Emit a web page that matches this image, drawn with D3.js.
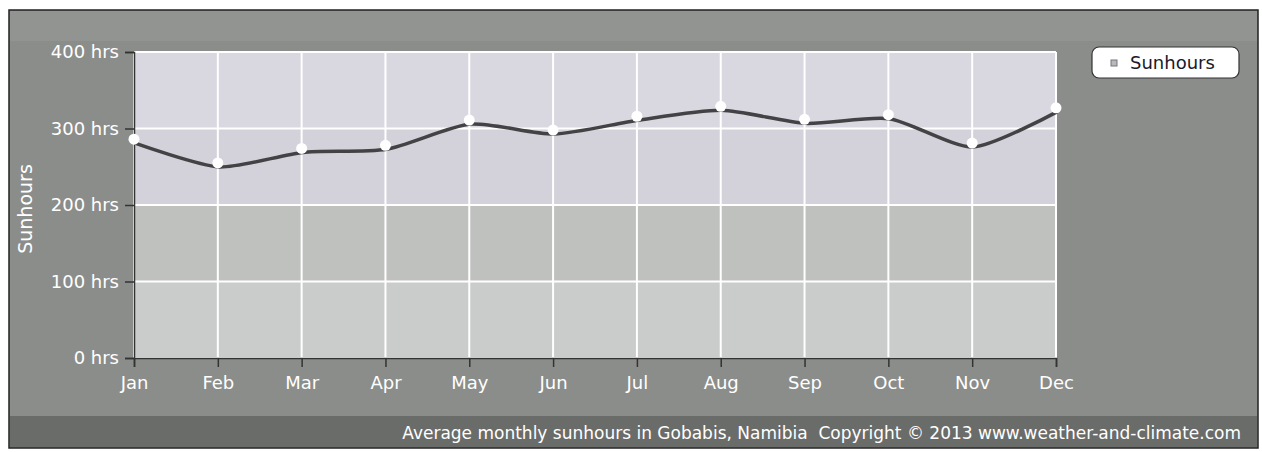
<!DOCTYPE html>
<html>
<head>
<meta charset="utf-8">
<script src="https://cdn.jsdelivr.net/npm/d3@7"></script>
<style>
  body { margin: 0; background: #ffffff; }
  text { font-family: "DejaVu Sans", sans-serif; }
</style>
</head>
<body>
<div id="chart"></div>
<script>
// data
const months = ["Jan", "Feb", "Mar", "Apr", "May", "Jun", "Jul", "Aug", "Sep", "Oct", "Nov", "Dec"];
const sunhours = [286, 255, 274, 278, 311, 298, 316, 329, 312, 318, 281, 327];
const yTicks = [0, 100, 200, 300, 400];

const svgWidth = 1262;
const svgHeight = 452;

const margin = { top: 52, right: 206, bottom: 94, left: 134 };
const width = svgWidth - margin.left - margin.right;
const height = svgHeight - margin.top - margin.bottom;

const svg = d3.select("#chart")
  .append("svg")
  .attr("width", svgWidth)
  .attr("height", svgHeight);

// outer frame
svg.append("rect")
  .attr("x", 9).attr("y", 10)
  .attr("width", 1249).attr("height", 438)
  .attr("fill", "#8b8d8b")
  .attr("stroke", "#222").attr("stroke-width", 1.5);

// slightly lighter strip along the top
svg.append("rect")
  .attr("x", 10).attr("y", 11)
  .attr("width", 1247).attr("height", 30)
  .attr("fill", "#929492");

// bottom caption strip
svg.append("rect")
  .attr("x", 10).attr("y", 416)
  .attr("width", 1247).attr("height", 31)
  .attr("fill", "#6a6c6a");

const chartGroup = svg.append("g")
  .attr("transform", `translate(${margin.left}, ${margin.top})`);

// scales
const xScale = d3.scalePoint()
  .domain(months)
  .range([0, width]);

const yScale = d3.scaleLinear()
  .domain([0, 400])
  .range([height, 0]);

// plot background bands
const bandColors = ["#cacbcb", "#bfc1bf", "#d3d1d9", "#d9d7e0"];
chartGroup.selectAll(".band")
  .data(d3.pairs(yTicks))
  .enter()
  .append("rect")
  .attr("x", 0)
  .attr("y", d => yScale(d[1]))
  .attr("width", width)
  .attr("height", d => yScale(d[0]) - yScale(d[1]))
  .attr("fill", (d, i) => bandColors[i]);

// grid
chartGroup.selectAll(".hgrid")
  .data(yTicks)
  .enter()
  .append("line")
  .attr("x1", 0).attr("x2", width)
  .attr("y1", d => yScale(d)).attr("y2", d => yScale(d))
  .attr("stroke", "#ffffff").attr("stroke-width", 2);

chartGroup.selectAll(".vgrid")
  .data(months)
  .enter()
  .append("line")
  .attr("x1", d => xScale(d)).attr("x2", d => xScale(d))
  .attr("y1", 0).attr("y2", height)
  .attr("stroke", "#ffffff").attr("stroke-width", 2);

// axes
const leftAxis = d3.axisLeft(yScale)
  .tickValues(yTicks)
  .tickFormat(d => `${d} hrs`)
  .tickSize(9)
  .tickPadding(6);

const bottomAxis = d3.axisBottom(xScale)
  .tickSize(9)
  .tickPadding(9);

const yAxis = chartGroup.append("g").call(leftAxis);
const xAxis = chartGroup.append("g")
  .attr("transform", `translate(0, ${height})`)
  .call(bottomAxis);

[yAxis, xAxis].forEach(ax => {
  ax.select(".domain").attr("stroke", "#333").attr("stroke-width", 1.5);
  ax.selectAll(".tick line").attr("stroke", "#333").attr("stroke-width", 1.5);
  ax.selectAll(".tick text")
    .attr("fill", "#ffffff")
    .style("font-size", "18px")
    .style("font-family", "\"DejaVu Sans\", sans-serif");
});

// y axis title
chartGroup.append("text")
  .attr("transform", "rotate(-90)")
  .attr("x", -(209 - margin.top))
  .attr("y", -margin.left + 32)
  .attr("text-anchor", "middle")
  .attr("fill", "#ffffff")
  .style("font-size", "19px")
  .text("Sunhours");

// line
const line = d3.line()
  .x((d, i) => xScale(months[i]))
  .y(d => yScale(d))
  .curve(d3.curveCardinal.tension(0.3));

chartGroup.append("path")
  .datum(sunhours)
  .attr("fill", "none")
  .attr("stroke", "#434345")
  .attr("stroke-width", 3.5)
  .attr("transform", "translate(1, 4)")
  .attr("d", line);

// points
chartGroup.selectAll("circle")
  .data(sunhours)
  .enter()
  .append("circle")
  .attr("cx", (d, i) => xScale(months[i]))
  .attr("cy", d => yScale(d))
  .attr("r", 5.5)
  .attr("fill", "#ffffff");

// legend
const legend = svg.append("g").attr("transform", "translate(1092, 47)");
legend.append("rect")
  .attr("width", 147).attr("height", 31)
  .attr("rx", 7)
  .attr("fill", "#ffffff")
  .attr("stroke", "#333").attr("stroke-width", 1.2);
legend.append("rect")
  .attr("x", 19).attr("y", 13)
  .attr("width", 6).attr("height", 6)
  .attr("fill", "#b8b8c0").attr("stroke", "#777");
legend.append("text")
  .attr("x", 38).attr("y", 22)
  .attr("fill", "#1a1a2a")
  .style("font-size", "18px")
  .text("Sunhours");

// caption
svg.append("text")
  .attr("x", 1241).attr("y", 439)
  .attr("text-anchor", "end")
  .attr("fill", "#ffffff")
  .style("font-size", "17px")
  .text("Average monthly sunhours in Gobabis, Namibia\u00a0\u00a0Copyright \u00a9 2013 www.weather-and-climate.com");
</script>
</body>
</html>
